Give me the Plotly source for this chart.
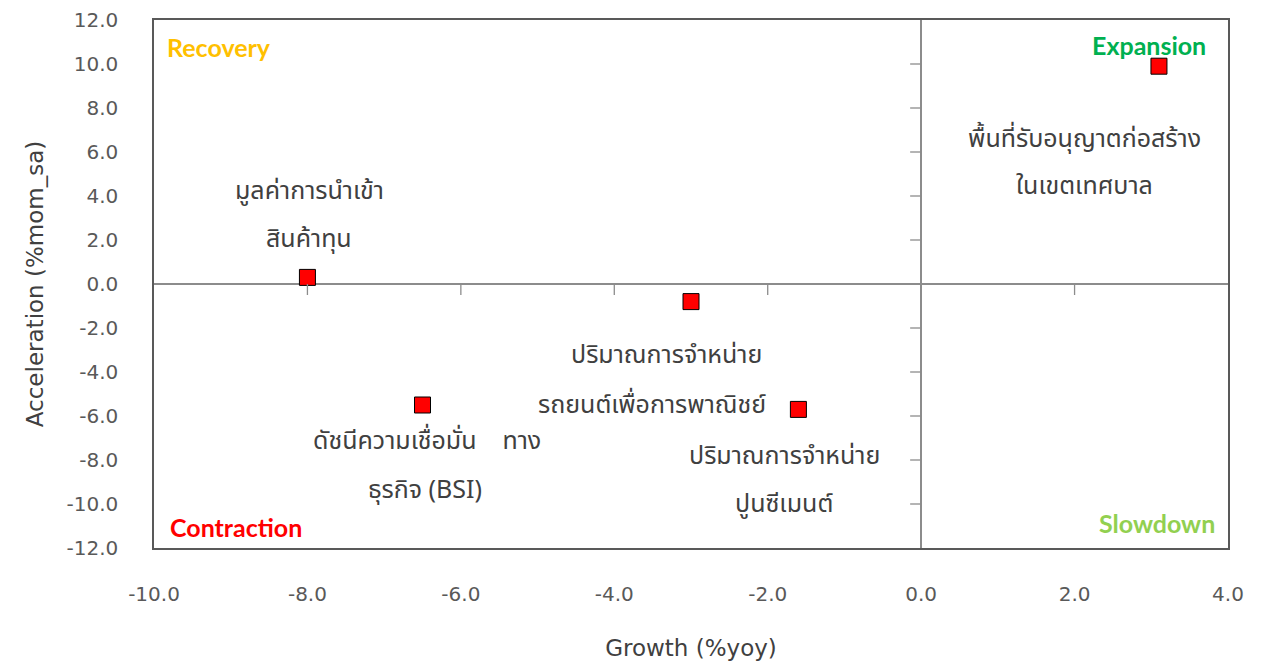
import plotly.graph_objects as go

# Indicator positions: growth (%yoy) vs acceleration (%mom_sa)
names = [
    "มูลค่าการนำเข้าสินค้าทุน",
    "ดัชนีความเชื่อมั่นทางธุรกิจ (BSI)",
    "ปริมาณการจำหน่ายรถยนต์เพื่อการพาณิชย์",
    "ปริมาณการจำหน่ายปูนซีเมนต์",
    "พื้นที่รับอนุญาตก่อสร้างในเขตเทศบาล",
]
growth = [-8.0, -6.5, -3.0, -1.6, 3.1]
acceleration = [0.3, -5.5, -0.8, -5.7, 9.9]

# Two-line labels drawn under/over each marker
label_lines = [
    ["มูลค่าการนำเข้า", "สินค้าทุน"],
    ["ดัชนีความเชื่อมั่น    ทาง", "ธุรกิจ (BSI)"],
    ["ปริมาณการจำหน่าย", "รถยนต์เพื่อการพาณิชย์"],
    ["ปริมาณการจำหน่าย", "ปูนซีเมนต์"],
    ["พื้นที่รับอนุญาตก่อสร้าง", "ในเขตเทศบาล"],
]
# pixel offsets (dx, dy-down) of each label line from its marker
label_offsets = [
    [(2, -86), (2, -38)],
    [(4, 36), (2, 85)],
    [(-25, 53), (-39, 103)],
    [(-14, 47), (-14, 95)],
    [(-74, 73), (-74, 120)],
]

x_ticks = [-10, -8, -6, -4, -2, 0, 2, 4]
y_ticks = [-12, -10, -8, -6, -4, -2, 0, 2, 4, 6, 8, 10, 12]

quadrants = [
    ("Recovery", "#FFC000", 0.010, 0.949, "left"),
    ("Expansion", "#00B050", 0.981, 0.953, "right"),
    ("Contraction", "#FF0000", 0.013, 0.040, "left"),
    ("Slowdown", "#92D050", 0.990, 0.047, "right"),
]

tick_font = dict(family="DejaVu Sans", size=20, color="#595959")
title_font = dict(family="DejaVu Sans", size=23, color="#404040")
thai_font = dict(family="Noto Sans Thai, Noto Sans, sans-serif", size=25, color="#404040")
quad_font_family = "Lato"

fig = go.Figure()
fig.add_trace(go.Scatter(
    x=growth, y=acceleration, mode="markers", text=names,
    marker=dict(symbol="square", size=16, color="#FF0000",
                line=dict(color="#000000", width=1)),
    hoverinfo="text+x+y", showlegend=False,
))

annotations = []
for gx, ay, lines, offs in zip(growth, acceleration, label_lines, label_offsets):
    for line, (dx, dy) in zip(lines, offs):
        annotations.append(dict(
            x=gx, y=ay, xref="x", yref="y", text=line, showarrow=False,
            xshift=dx, yshift=-dy, font=thai_font,
            xanchor="center", yanchor="middle",
        ))

for text, color, px, py, anchor in quadrants:
    annotations.append(dict(
        x=px, y=py, xref="paper", yref="paper", text=f"<b>{text}</b>",
        showarrow=False, xanchor=anchor, yanchor="middle",
        font=dict(family=quad_font_family, size=25, color=color),
    ))

# Tick marks sitting on the zero axes
shapes = []
for xv in x_ticks:
    if xv in (-10, 0, 4):
        continue
    shapes.append(dict(type="line", xref="x", yref="y", ysizemode="pixel",
                       yanchor=0, x0=xv, x1=xv, y0=0, y1=-11,
                       line=dict(color="#8C8C8C", width=1.3)))
for yv in y_ticks:
    if yv in (-12, 0, 12):
        continue
    shapes.append(dict(type="line", xref="x", yref="y", xsizemode="pixel",
                       xanchor=0, x0=-11, x1=0, y0=yv, y1=yv,
                       line=dict(color="#8C8C8C", width=1.3)))

fig.update_layout(
    width=1269, height=664,
    margin=dict(l=154, r=41, t=20, b=116),
    paper_bgcolor="white", plot_bgcolor="white",
    annotations=annotations, shapes=shapes,
    xaxis=dict(
        range=[-10, 4], tickvals=x_ticks,
        ticktext=[f"{v:.1f}" for v in x_ticks],
        showgrid=False, zeroline=True, zerolinecolor="#8C8C8C", zerolinewidth=1.5,
        showline=True, linecolor="#595959", linewidth=1.5, mirror=True,
        ticks="outside", ticklen=27, tickcolor="rgba(0,0,0,0)",
        tickfont=tick_font, automargin=False,
        title=dict(text="Growth (%yoy)", font=title_font, standoff=35),
    ),
    yaxis=dict(
        range=[-12, 12], tickvals=y_ticks,
        ticktext=[f"{v:.1f}" for v in y_ticks],
        showgrid=False, zeroline=True, zerolinecolor="#8C8C8C", zerolinewidth=1.5,
        showline=True, linecolor="#595959", linewidth=1.5, mirror=True,
        ticks="outside", ticklen=30, tickcolor="rgba(0,0,0,0)",
        tickfont=tick_font, automargin=False,
        title=dict(text="Acceleration (%mom_sa)", font=title_font, standoff=16),
    ),
)

fig.write_html("out.html")
